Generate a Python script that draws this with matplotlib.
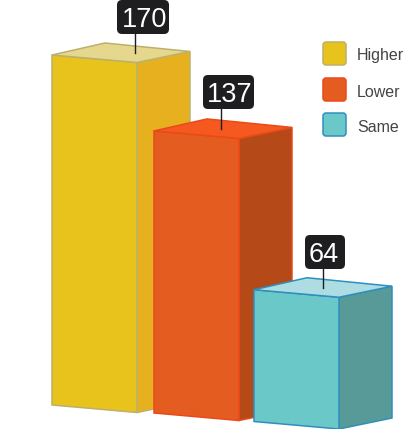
import matplotlib
matplotlib.use('Agg')
import matplotlib.pyplot as plt
from matplotlib.patches import Polygon, FancyBboxPatch

# datos del grafico
categorias = ['Higher', 'Lower', 'Same']
valores = [170, 137, 64]

# colores por barra
col_frente = ['#E8C31C', '#E45C20', '#6BC8C8']
col_lado = ['#E6B01E', '#B54A18', '#589A97']
col_tapa = ['#E5D88E', '#F5591F', '#ADDDE2']
col_borde = ['#BDB06A', '#EA4A1A', '#2E8FBF']

# geometria en pixeles de la figura
base_x = [52, 154, 254]
base_y = [405, 413, 421.5]
ancho = 85
caida = 7.5
fondo_x = 53
fondo_y = -11
px_por_unidad = 350 / 170

# caja de cada etiqueta: izquierda, derecha, arriba, palito y centro del texto
caja_izq = [117, 203, 305]
caja_der = [169, 254, 345]
caja_arriba = [0, 75, 235]
palito_x = [135, 221, 322.5]
texto_x = [145, 230, 324]
caja_alto = 34

plt.rcParams['font.family'] = ['Liberation Sans', 'DejaVu Sans']

fig = plt.figure(figsize=(4.15, 4.29), dpi=100)
ax = fig.add_axes([0, 0, 1, 1])
ax.set_xlim(0, 415)
ax.set_ylim(429, 0)
ax.axis('off')

for i, val in enumerate(valores):
    x0 = base_x[i]
    y0 = base_y[i]
    alto = val * px_por_unidad
    x1 = x0 + ancho
    y1 = y0 + caida
    x2 = x1 + fondo_x
    y2 = y1 + fondo_y

    # cara derecha, frente y tapa
    ax.add_patch(Polygon([(x1, y1), (x2, y2), (x2, y2 - alto), (x1, y1 - alto)],
                         facecolor=col_lado[i], edgecolor=col_borde[i], lw=1.1, zorder=i * 3 + 1))
    ax.add_patch(Polygon([(x0, y0), (x1, y1), (x1, y1 - alto), (x0, y0 - alto)],
                         facecolor=col_frente[i], edgecolor=col_borde[i], lw=1.1, zorder=i * 3 + 1))
    ax.add_patch(Polygon([(x0, y0 - alto), (x1, y1 - alto), (x2, y2 - alto), (x0 + fondo_x, y0 + fondo_y - alto - 1)],
                         facecolor=col_tapa[i], edgecolor=col_borde[i], lw=1.1, zorder=i * 3 + 1))

    # etiqueta con el valor
    tapa_y = (y0 - alto + y2 - alto) / 2
    ax.plot([palito_x[i], palito_x[i]], [caja_arriba[i] + caja_alto, tapa_y],
            color='#1e1e20', lw=1, zorder=20)
    ax.add_patch(FancyBboxPatch((caja_izq[i] + 4, caja_arriba[i] + 4),
                                caja_der[i] - caja_izq[i] - 8, caja_alto - 8,
                                boxstyle='round,pad=4,rounding_size=5',
                                facecolor='#1e1e20', edgecolor='none', zorder=21))
    ax.text(texto_x[i], caja_arriba[i] + 27, str(val),
            color='white', fontsize=19.5, ha='center', va='baseline', zorder=22)

# leyenda
ley_y = [42, 78, 113]
ley_base = [60, 97, 132]
for i, nombre in enumerate(categorias):
    ax.add_patch(FancyBboxPatch((325, ley_y[i] + 2), 19, 19,
                                boxstyle='round,pad=2,rounding_size=3',
                                facecolor=col_frente[i], edgecolor=col_borde[i], lw=1.1, zorder=30))
    ax.text(357, ley_base[i], nombre, color='#444444', fontsize=11.5,
            ha='left', va='baseline', zorder=30)

fig.savefig('out.png', dpi=100)
